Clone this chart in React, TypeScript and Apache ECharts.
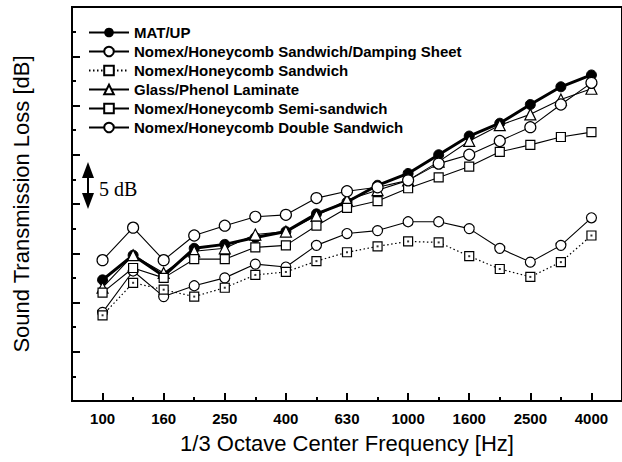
import React, { useEffect, useRef } from "react";
import * as echarts from "echarts";

const freqLabels = ["100", "125", "160", "200", "250", "315", "400", "500", "630", "800", "1000", "1250", "1600", "2000", "2500", "3150", "4000"];
const labeledIdx = [0, 2, 4, 6, 8, 10, 12, 14, 16];

const matUp = [12.3, 14.8, 12.7, 15.5, 15.9, 16.6, 17.2, 19.0, 20.2, 21.9, 23.1, 25.0, 26.9, 28.2, 30.1, 31.9, 33.1];
const dampingSheet = [9.0, 13.2, 10.6, 11.7, 12.5, 13.9, 13.6, 15.8, 17.0, 17.3, 18.2, 18.2, 17.5, 15.5, 14.1, 15.8, 18.6];
const sandwich = [8.7, 12.0, 11.3, 10.6, 11.5, 12.8, 13.1, 14.2, 15.1, 15.7, 16.2, 16.1, 14.7, 13.4, 12.6, 14.1, 16.8];
const glassPhenol = [11.5, 14.8, 13.0, 15.2, 15.5, 16.9, 17.2, 18.8, 20.4, 21.4, 22.4, 24.3, 26.4, 28.0, 29.1, 30.6, 31.7];
const semiSandwich = [11.0, 13.5, 12.5, 14.4, 14.4, 15.6, 15.8, 17.8, 19.6, 20.3, 21.6, 22.7, 23.8, 25.3, 26.0, 26.8, 27.3];
const doubleSandwich = [14.3, 17.6, 14.3, 16.8, 17.8, 18.7, 18.9, 20.6, 21.3, 21.7, 22.4, 24.1, 25.0, 26.4, 27.8, 30.1, 32.3];

const seriesNames = [
  "MAT/UP",
  "Nomex/Honeycomb Sandwich/Damping Sheet",
  "Nomex/Honeycomb Sandwich",
  "Glass/Phenol Laminate",
  "Nomex/Honeycomb Semi-sandwich",
  "Nomex/Honeycomb Double Sandwich",
];

const toPairs = (arr: number[]) => arr.map((v, i) => [i, v]);

export default function App() {
  const ref = useRef<HTMLDivElement>(null);
  useEffect(() => {
    if (!ref.current) return;
    const chart = echarts.init(ref.current, null, { renderer: "svg" });
    const font = "Liberation Sans, Arial, sans-serif";
    const base = {
      type: "line",
      color: "#000",
      itemStyle: { color: "#fff", borderColor: "#000", borderWidth: 1.2 },
      lineStyle: { color: "#000", width: 1.1 },
      symbolSize: 9,
      z: 3,
    };
    chart.setOption({
      animation: false,
      backgroundColor: "#fff",
      grid: { left: 72, right: -9, top: 7, bottom: 61, show: true, borderColor: "#000", borderWidth: 2, backgroundColor: "transparent" },
      legend: {
        orient: "vertical",
        left: 88,
        top: 25,
        padding: 0,
        itemWidth: 40,
        itemHeight: 12,
        itemGap: 4,
        data: seriesNames,
        textStyle: { fontFamily: font, fontWeight: "bold", fontSize: 15, color: "#000", padding: [0, 0, 0, 0] },
      },
      xAxis: [
        {
          type: "value",
          min: -1,
          max: 17,
          position: "bottom",
          splitLine: { show: false },
          axisLine: { show: true, onZero: false, lineStyle: { color: "#000", width: 2 } },
          axisTick: { inside: true, length: 8, customValues: labeledIdx, lineStyle: { color: "#000", width: 2 } },
          axisLabel: {
            customValues: labeledIdx,
            formatter: (v: number) => freqLabels[v] ?? "",
            fontFamily: font,
            fontWeight: "bold",
            fontSize: 15,
            color: "#000",
            margin: 10,
          },
          name: "1/3 Octave Center Frequency [Hz]",
          nameLocation: "middle",
          nameGap: 31,
          nameTextStyle: { fontFamily: font, fontSize: 22, color: "#000" },
        },
        {
          type: "value",
          min: -1,
          max: 17,
          interval: 1,
          position: "bottom",
          splitLine: { show: false },
          axisLine: { show: false, onZero: false },
          axisTick: { inside: true, length: 4, lineStyle: { color: "#000", width: 2 } },
          axisLabel: { show: false },
        },
      ],
      yAxis: {
        type: "value",
        min: 0,
        max: 40,
        interval: 5,
        position: "left",
        splitLine: { show: false },
        axisLine: { show: true, onZero: false, lineStyle: { color: "#000", width: 2 } },
        axisTick: { inside: true, length: 8, lineStyle: { color: "#000", width: 2 } },
        minorTick: { show: true, splitNumber: 2, length: 4, lineStyle: { color: "#000", width: 2 } },
        axisLabel: { show: false },
        name: "Sound Transmission Loss [dB]",
        nameLocation: "middle",
        nameGap: 40,
        nameRotate: 90,
        nameTextStyle: { fontFamily: font, fontSize: 22, color: "#000" },
      },
      graphic: [
        { type: "line", shape: { x1: 88, y1: 174, x2: 88, y2: 197 }, style: { stroke: "#000", lineWidth: 2 } },
        { type: "polygon", shape: { points: [[88, 162], [82, 178], [94, 178]] }, style: { fill: "#000" } },
        { type: "polygon", shape: { points: [[88, 209], [82, 193], [94, 193]] }, style: { fill: "#000" } },
        {
          type: "text",
          x: 99,
          y: 189,
          style: { text: "5 dB", fontFamily: "Liberation Serif, Times New Roman, serif", fontSize: 20, fill: "#000", verticalAlign: "middle" },
        },
      ],
      series: [
        {
          ...base,
          name: seriesNames[0],
          data: toPairs(matUp),
          symbol: "circle",
          symbolSize: 10,
          itemStyle: { color: "#000", borderColor: "#000" },
          lineStyle: { color: "#000", width: 3 },
        },
        { ...base, name: seriesNames[1], data: toPairs(dampingSheet), symbol: "circle", symbolSize: 10 },
        {
          ...base,
          name: seriesNames[2],
          data: toPairs(sandwich),
          symbol: "rect",
          symbolSize: 9,
          lineStyle: { color: "#000", width: 1.2, type: [1.5, 2.5] },
        },
        { ...base, name: seriesNames[3], data: toPairs(glassPhenol), symbol: "triangle", symbolSize: 11 },
        { ...base, name: seriesNames[4], data: toPairs(semiSandwich), symbol: "rect", symbolSize: 9 },
        { ...base, name: seriesNames[5], data: toPairs(doubleSandwich), symbol: "circle", symbolSize: 11 },
        {
          type: "scatter",
          name: "sandwich-dots",
          data: toPairs(sandwich),
          symbol: "rect",
          symbolSize: 2,
          itemStyle: { color: "#000" },
          z: 4,
          silent: true,
        },
      ],
    });
    return () => chart.dispose();
  }, []);
  return <div ref={ref} style={{ position: "absolute", left: 0, top: 0, width: 622, height: 462, background: "#fff" }} />;
}
